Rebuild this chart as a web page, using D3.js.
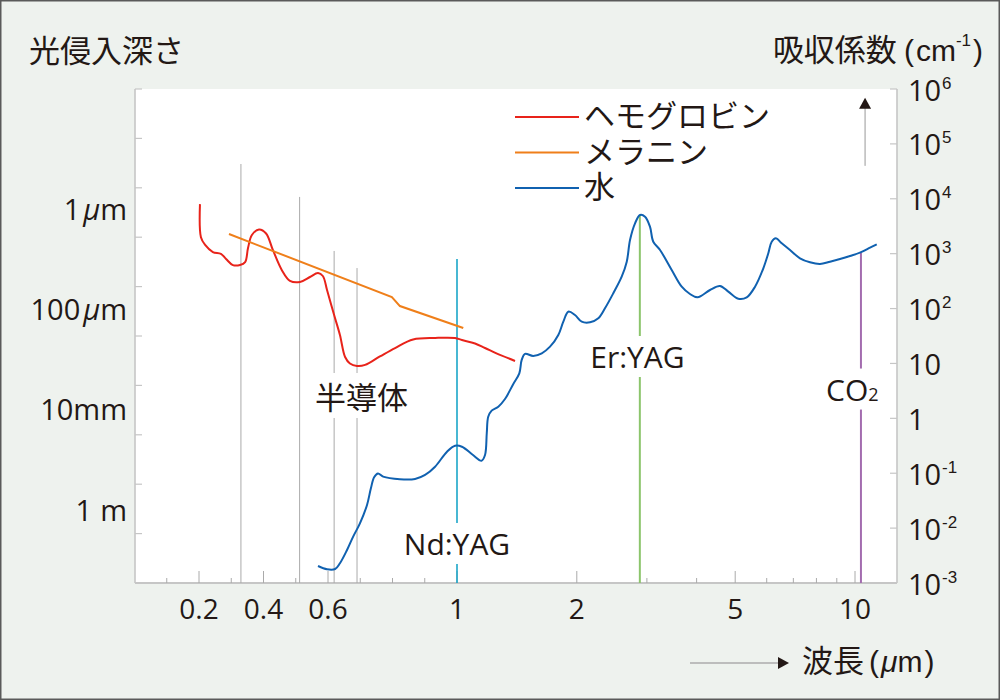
<!DOCTYPE html>
<html><head><meta charset="utf-8">
<script src="https://cdn.jsdelivr.net/npm/d3@7"></script>
<style>body{margin:0;background:#eef2ee}</style>
</head><body>
<script>
// ---------------- data (wavelength in μm, absorption coefficient in cm^-1) ----------------
const hemoglobinWl  = [0.203,0.206,0.219,0.243,0.268,0.284,0.305,0.327,0.343,0.352,0.364,0.386,0.408,0.429,0.457,0.482,0.513,0.544,0.569,0.584,0.597,0.619,0.637,0.653,0.668,0.690,0.715,0.761,0.808,0.864,0.932,0.994,1.029,1.110,1.176,1.282,1.399];
const hemoglobinAbs = [8000,2000,1440,1070,990,800,620,620,700,1270,2190,2750,2330,1170,500,320,305,376,444,392,218,76,33,13.1,10,9.0,9.4,13.4,19.1,27.3,29.1,29.1,26.7,23.1,19.1,14.3,11.1];

const melaninWl  = [0.293,0.798,0.823,1.037];
const melaninAbs = [2280,162,111,44.2];

const waterWl  = [0.569,0.597,0.622,0.637,0.659,0.678,0.699,0.721,0.733,0.743,0.755,0.771,0.823,0.870,0.901,0.932,0.969,0.994,1.029,1.097,1.152,1.176,1.188,1.198,1.222,1.270,1.320,1.383,1.434,1.454,1.482,1.554,1.633,1.713,1.797,1.850,1.904,1.979,2.058,2.159,2.265,2.354,2.470,2.593,2.670,2.721,2.801,2.883,2.968,3.054,3.113,3.237,3.463,3.670,3.849,4.021,4.322,4.580,4.804,5.090,5.345,5.608,5.884,6.056,6.176,6.321,6.545,6.866,7.274,7.708,8.166,8.653,9.168,9.714,10.29,10.91,11.34];
const waterAbs = [0.00204,0.00178,0.0018,0.00229,0.0040,0.0070,0.0122,0.0264,0.0531,0.0843,0.0989,0.0865,0.0775,0.0785,0.0929,0.1315,0.247,0.317,0.304,0.215,0.169,0.215,0.541,1.07,1.38,1.63,2.25,4.14,6.61,11.6,14.9,13.7,15.3,20.2,33.0,57.6,87.7,76.3,57.6,56.2,66.5,101,190,381,714,1775,3575,5064,4716,3099,1652,1167,504,250,184,160,218,258,203,151,160,250,541,1016,1652,1905,1545,1167,824,696,648,714,800,907,1042,1285,1482];

// laser / light source markers
const laserWl   = [0.33,0.512,0.619,0.69,1.0,2.88,10.35];
const laserTop  = [43000,10800,1120,547,800,5064,1027];
const laserKind = ["gray","gray","gray","gray","nd","er","co2"];

// series names (legend)
const seriesNames = ["ヘモグロビン","メラニン","水"];

// axis ticks / labels
const xLabelTicks = [0.2,0.4,0.6,1,2,5,10];
const xMinorTicks = [0.1,0.3,0.5,0.7,0.8,0.9,3,4,6,7,8,9];
const rightExps   = [6,5,4,3,2,1,0,-1,-2,-3];
const depthValues = [1e-6,1e-4,1e-2,1];
const depthNums   = ["1","100","10","1"];
const depthUnits  = ["μm","μm","mm","m"];

// ---------------- styles ----------------
const C = {bg:"#eef2ee", text:"#231815", axis:"#c6c6c6", tick:"#aaaaaa", gray:"#aaaaaa",
  hemo:"#e8231a", mel:"#ef7f1a", water:"#1061b0", nd:"#1ba6c8", er:"#8cc56c", co2:"#a36caf"};
const LAT = "'Open Sans','Noto Sans CJK JP',sans-serif";
const CJK = "'Liberation Sans','Noto Sans CJK JP',sans-serif"; // kana/kanji fall back to Noto CJK
const SUP = "'Liberation Sans',sans-serif";

const W=1000,H=700;
const P={left:135,right:897,top:89,bottom:583};

// scales: linear 0–1 μm, logarithmic above 1 μm
const xLin = d3.scaleLinear().domain([0,1]).range([134.5,457]);
const xLog = d3.scaleLog().domain([1,10]).range([457,855]);
const x = v => v<=1 ? xLin(v) : xLog(v);
const y = d3.scaleLog().domain([1e-3,1e6]).range([P.bottom,P.top]);
const depthY = d3.scaleLog().domain([1e-6,1]).range([209.5,510.5]);
const leftTickY = d3.scaleLinear().domain([0,10]).range([P.top,P.bottom]);

const svg=d3.select("body").append("svg").attr("width",W).attr("height",H);
svg.append("rect").attr("width",W).attr("height",H).attr("fill",C.bg);
svg.append("rect").attr("x",P.left).attr("y",P.top).attr("width",P.right-P.left).attr("height",P.bottom-P.top).attr("fill","#fff");

// ---------------- axes ----------------
const ax=svg.append("g");
// left axis
ax.append("line").attr("x1",P.left).attr("x2",P.left).attr("y1",P.top).attr("y2",P.bottom).attr("stroke",C.axis).attr("stroke-width",1.6);
ax.selectAll(".lt").data(d3.range(11)).enter().append("line")
  .attr("x1",P.left).attr("x2",P.left+7).attr("y1",d=>leftTickY(d)).attr("y2",d=>leftTickY(d))
  .attr("stroke",C.axis).attr("stroke-width",1.2);
depthValues.forEach((d,i)=>{
  const t=ax.append("text").attr("x",127).attr("y",depthY(d)+10).attr("text-anchor","end")
    .attr("font-family",LAT).attr("font-size",29).attr("fill",C.text);
  t.append("tspan").text(depthNums[i]);
  if(depthUnits[i]==="μm"){
    t.append("tspan").attr("dx",3).attr("font-style","italic").text("μ");
    t.append("tspan").text("m");
  } else if(depthUnits[i]==="m"){
    t.append("tspan").attr("dx",8).text("m");
  } else {
    t.append("tspan").text(depthUnits[i]);
  }
});
// right axis
ax.append("line").attr("x1",P.right).attr("x2",P.right).attr("y1",P.top).attr("y2",P.bottom).attr("stroke",C.axis).attr("stroke-width",1.6);
ax.selectAll(".rt").data(rightExps).enter().append("line")
  .attr("x1",P.right-7).attr("x2",P.right).attr("y1",d=>y(Math.pow(10,d))).attr("y2",d=>y(Math.pow(10,d)))
  .attr("stroke",C.axis).attr("stroke-width",1.2);
rightExps.forEach(e=>{
  const yy=y(Math.pow(10,e))+11.5;
  if(e===0 || e===1){
    ax.append("text").attr("x",908).attr("y",yy).attr("font-family",LAT).attr("font-size",29).attr("fill",C.text).text(e===0?"1":"10");
  } else {
    ax.append("text").attr("x",908).attr("y",yy).attr("font-family",LAT).attr("font-size",29).attr("fill",C.text).text("10");
    ax.append("text").attr("x",942).attr("y",yy-12).attr("font-family",SUP).attr("font-size",17).attr("fill",C.text).text(String(e));
  }
});
// bottom axis
ax.append("line").attr("x1",P.left).attr("x2",P.right).attr("y1",P.bottom).attr("y2",P.bottom).attr("stroke",C.axis).attr("stroke-width",2);
ax.selectAll(".bt").data(xMinorTicks).enter().append("line")
  .attr("x1",d=>x(d)).attr("x2",d=>x(d)).attr("y1",P.bottom).attr("y2",P.bottom-5).attr("stroke",C.tick).attr("stroke-width",1);
ax.selectAll(".bT").data(xLabelTicks).enter().append("line")
  .attr("x1",d=>x(d)).attr("x2",d=>x(d)).attr("y1",P.bottom).attr("y2",P.bottom-12).attr("stroke",C.tick).attr("stroke-width",1);
ax.selectAll(".bl").data(xLabelTicks).enter().append("text")
  .attr("x",d=>x(d)).attr("y",619).attr("text-anchor","middle")
  .attr("font-family",LAT).attr("font-size",28).attr("fill",C.text).text(d=>String(d));

// ---------------- laser lines ----------------
const lcol={gray:C.gray,nd:C.nd,er:C.er,co2:C.co2};
const lw={gray:1,nd:1.6,er:2,co2:2};
svg.append("g").selectAll("line").data(laserWl).enter().append("line")
  .attr("x1",d=>x(d)).attr("x2",d=>x(d)).attr("y1",(d,i)=>y(laserTop[i])).attr("y2",P.bottom)
  .attr("stroke",(d,i)=>lcol[laserKind[i]]).attr("stroke-width",(d,i)=>lw[laserKind[i]]);

// ---------------- curves ----------------
const line=d3.line().x(d=>x(d[0])).y(d=>y(d[1])).curve(d3.curveCatmullRom.alpha(0.5));
const zip=(a,b)=>a.map((v,i)=>[v,b[i]]);
svg.append("path").datum(zip(waterWl,waterAbs)).attr("d",line).attr("fill","none").attr("stroke",C.water).attr("stroke-width",2);
svg.append("path").datum(zip(hemoglobinWl,hemoglobinAbs)).attr("d",line).attr("fill","none").attr("stroke",C.hemo).attr("stroke-width",2);
svg.append("path").datum(zip(melaninWl,melaninAbs)).attr("d",d3.line().x(d=>x(d[0])).y(d=>y(d[1]))).attr("fill","none").attr("stroke",C.mel).attr("stroke-width",2);

// ---------------- labels with white backgrounds ----------------
function bgLabel(parts, px, py, anchor){
  const g=svg.append("g");
  const t=g.append("text").attr("x",px).attr("y",py).attr("text-anchor",anchor).attr("fill",C.text);
  parts.forEach(p=>t.append("tspan").attr("font-family",p.f).attr("font-size",p.s).text(p.t));
  const b=t.node().getBBox();
  g.insert("rect","text").attr("x",b.x).attr("y",b.y).attr("width",b.width).attr("height",b.height).attr("fill","#fff");
}
bgLabel([{t:"半導体",f:"'Noto Sans CJK JP',sans-serif",s:31}], x(0.704), y(1.48), "middle");
bgLabel([{t:"Nd:YAG",f:LAT,s:30}], x(1.0), y(0.00324), "middle");
bgLabel([{t:"Er:YAG",f:LAT,s:30}], x(2.84), y(8.26), "middle");
bgLabel([{t:"CO",f:LAT,s:30},{t:"2",f:LAT,s:18}], x(8.46), y(2.11), "start");

// ---------------- legend ----------------
const legCol=[C.hemo,C.mel,C.water];
const legY=[117,152.5,188];
seriesNames.forEach((n,i)=>{
  svg.append("line").attr("x1",515).attr("x2",579).attr("y1",legY[i]).attr("y2",legY[i]).attr("stroke",legCol[i]).attr("stroke-width",2);
  svg.append("text").attr("x",584).attr("y",legY[i]+10).attr("font-family",CJK).attr("font-size",31).attr("fill",C.text).text(n);
});

// up arrow (absorption direction)
const ua=x(10.6);
svg.append("line").attr("x1",ua).attr("x2",ua).attr("y1",y(Math.pow(10,4.6))).attr("y2",y(Math.pow(10,5.7))).attr("stroke","#999").attr("stroke-width",1);
const tip=y(Math.pow(10,5.84));
svg.append("path").attr("d",`M${ua},${tip}L${ua-6},${tip+11}L${ua+6},${tip+11}Z`).attr("fill","#231815");

// ---------------- titles ----------------
svg.append("text").attr("x",29).attr("y",62).attr("font-family",CJK).attr("font-size",31).attr("fill",C.text).text("光侵入深さ");
const rt=svg.append("text").attr("x",983).attr("y",61).attr("text-anchor","end").attr("fill",C.text).attr("font-family",CJK);
rt.append("tspan").attr("font-size",31).text("吸収係数");
rt.append("tspan").attr("font-size",30).attr("dx",7).text("(");
rt.append("tspan").attr("font-size",30).attr("dx",2).text("cm");
rt.append("tspan").attr("font-size",17).attr("dy",-15).text("-1");
rt.append("tspan").attr("font-size",30).attr("dy",15).attr("dx",2).text(")");

// bottom arrow + x title
svg.append("line").attr("x1",690).attr("x2",778).attr("y1",663).attr("y2",663).attr("stroke","#bdbdbd").attr("stroke-width",2);
svg.append("path").attr("d","M789,663L778,657L778,669Z").attr("fill","#231815");
const xt=svg.append("text").attr("x",802).attr("y",672).attr("fill",C.text).attr("font-family",CJK);
xt.append("tspan").attr("font-size",31).text("波長");
xt.append("tspan").attr("font-size",30).attr("dx",5).text("(");
xt.append("tspan").attr("font-size",30).attr("dx",2).attr("font-style","italic").text("μ");
xt.append("tspan").attr("font-size",30).text("m");
xt.append("tspan").attr("font-size",30).attr("dx",2).text(")");

// outer frame
svg.append("rect").attr("x",0.75).attr("y",0.75).attr("width",W-1.5).attr("height",H-1.5).attr("fill","none").attr("stroke","#5a5a5a").attr("stroke-width",1.5);
</script>
</body></html>
